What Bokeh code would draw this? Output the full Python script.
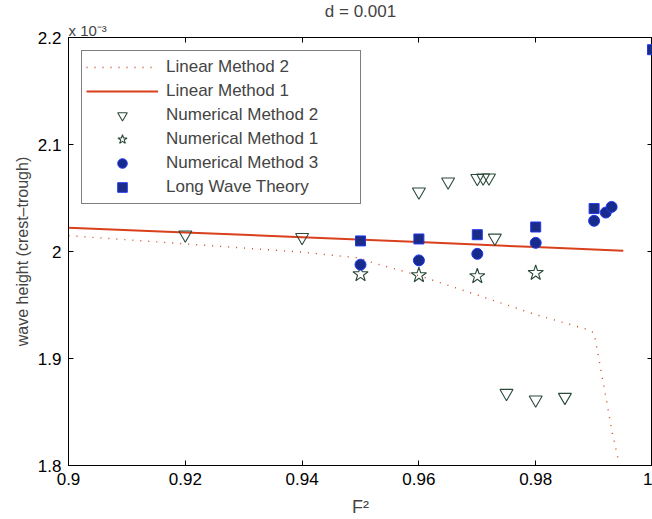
from bokeh.plotting import figure
from bokeh.models import Range1d, LinearAxis, FixedTicker, Title
from bokeh.embed import file_html
from bokeh.resources import INLINE

# ---------------- data (wave height in units of 1e-3) ----------------
lin2_x = [0.900, 0.920, 0.940, 0.950, 0.951, 0.960, 0.970, 0.980, 0.989, 0.9900,
          0.9905, 0.9914, 0.9921, 0.9930, 0.9941]
lin2_y = [2.0148, 2.0071, 1.9994, 1.9938, 1.9912, 1.9775, 1.9593, 1.9410, 1.9269, 1.9238,
          1.9093, 1.8821, 1.8614, 1.8336, 1.8065]

lin1_x = [0.900, 0.920, 0.940, 0.960, 0.980, 0.995]
lin1_y = [2.0223, 2.0178, 2.0133, 2.0088, 2.0041, 2.0006]

num2_x = [0.920, 0.940, 0.960, 0.965, 0.970, 0.971, 0.972, 0.973, 0.975, 0.980, 0.985]
num2_y = [2.0157, 2.0133, 2.0559, 2.0652, 2.0685, 2.0689, 2.0689, 2.0127, 1.8676, 1.8615, 1.8639]

num1_x = [0.950, 0.960, 0.970, 0.980]
num1_y = [1.9787, 1.9778, 1.9769, 1.9799]

num3_x = [0.950, 0.960, 0.970, 0.980, 0.990, 0.992, 0.993]
num3_y = [1.9877, 1.9917, 1.9978, 2.0081, 2.0287, 2.0364, 2.0417]

lwt_x = [0.950, 0.960, 0.970, 0.980, 0.990, 1.000]
lwt_y = [2.0099, 2.0117, 2.0157, 2.0229, 2.0401, 2.1886]

x_ticks = [0.9, 0.92, 0.94, 0.96, 0.98, 1.0]
x_tick_labels = ["0.9", "0.92", "0.94", "0.96", "0.98", "1"]
y_ticks = [1.8, 1.9, 2.0, 2.1, 2.2]
y_tick_labels = ["1.8", "1.9", "2", "2.1", "2.2"]

title_text = "d = 0.001"
scale_text = "x 10\u207b\u00b3"
xlabel_text = "F\u00b2"
ylabel_text = "wave height (crest\u2013trough)"

FONT = "Liberation Sans"
RED = "#d9401c"
GREEN = "#2b4a3a"

p = figure(width=652, height=519, output_backend="svg", toolbar_location=None,
           x_range=Range1d(0.9, 1.0), y_range=Range1d(1.8, 2.2),
           min_border_left=68, min_border_right=0, min_border_top=35,
           min_border_bottom=52)
p.background_fill_color = "white"
p.border_fill_color = "white"
p.outline_line_color = "black"
p.outline_line_width = 1
p.xgrid.visible = False
p.ygrid.visible = False

xa = p.below[0]
ya = p.left[0]

# main axes
for ax in (xa, ya):
    ax.axis_line_color = "black"
    ax.major_tick_in = 5
    ax.major_tick_out = 0
    ax.minor_tick_line_color = None
    ax.major_label_text_font = FONT
    ax.major_label_text_font_size = "17px"
    ax.major_label_text_color = "black"

xa.ticker = FixedTicker(ticks=x_ticks)
xa.major_label_overrides = {t: l for t, l in zip(x_ticks, x_tick_labels)}
xa.major_label_standoff = 7
xa.axis_label = xlabel_text
xa.axis_label_text_font = FONT
xa.axis_label_text_font_size = "18px"
xa.axis_label_text_font_style = "normal"
xa.axis_label_standoff = 9

ya.ticker = FixedTicker(ticks=y_ticks)
ya.major_label_overrides = {t: l for t, l in zip(y_ticks, y_tick_labels)}
ya.major_label_standoff = 7
ya.axis_label = ylabel_text
ya.axis_label_text_font = FONT
ya.axis_label_text_font_size = "16px"
ya.axis_label_text_font_style = "normal"
ya.axis_label_standoff = 4

# box axes (ticks only, no labels)
top = LinearAxis(ticker=FixedTicker(ticks=x_ticks), major_tick_in=5, major_tick_out=0,
                 minor_tick_line_color=None, major_label_text_font_size="0px",
                 major_label_text_color=None, major_label_standoff=0,
                 axis_line_color="black")
right = LinearAxis(ticker=FixedTicker(ticks=y_ticks), major_tick_in=5, major_tick_out=0,
                   minor_tick_line_color=None, major_label_text_font_size="0px",
                   major_label_text_color=None, major_label_standoff=0,
                   axis_line_color="black")
p.add_layout(top, "above")
p.add_layout(right, "right")

# exponent note just above the frame, title outermost
scale_title = Title(text=scale_text, align="left", text_font=FONT,
                    text_font_size="15px", text_font_style="normal", standoff=-2)
p.add_layout(scale_title, "above")

p.title.text = title_text
p.title.align = "center"
p.title.text_font = FONT
p.title.text_font_size = "17px"
p.title.text_font_style = "normal"
p.title.standoff = -1

# glyphs
p.line(lin2_x, lin2_y, line_color=RED, line_width=1.4, line_dash="1 7",
       legend_label="Linear Method 2")
p.line(lin1_x, lin1_y, line_color=RED, line_width=2, legend_label="Linear Method 1")
p.scatter(num2_x, num2_y, marker="inverted_triangle", size=13, fill_color=None,
          line_color=GREEN, line_width=1.1, legend_label="Numerical Method 2")
p.scatter(num1_x, num1_y, marker="star", size=16, fill_color=None,
          line_color=GREEN, line_width=1.1, legend_label="Numerical Method 1")
p.scatter(num3_x, num3_y, marker="circle", size=11, fill_color="#172b8c",
          line_color="#2238f0", line_width=1, legend_label="Numerical Method 3")
p.scatter(lwt_x, lwt_y, marker="square", size=10, fill_color="#1a2c86",
          line_color="#2238f0", line_width=1, legend_label="Long Wave Theory")

leg = p.legend[0]
leg.location = "top_left"
leg.margin = 13
leg.padding = 4
leg.spacing = 0
leg.glyph_width = 72
leg.glyph_height = 24
leg.label_height = 24
leg.label_width = 190
leg.label_standoff = 8
leg.label_text_font = FONT
leg.label_text_font_size = "17px"
leg.border_line_color = "black"
leg.border_line_width = 1
leg.background_fill_alpha = 1

open("out.html", "w").write(file_html(p, INLINE))
